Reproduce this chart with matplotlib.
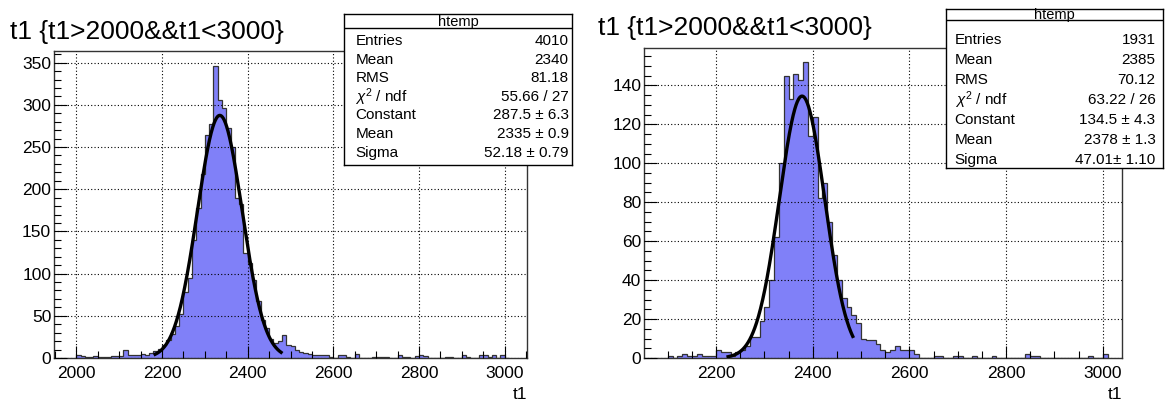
#!/usr/bin/env python3
"""
Two ROOT-style histograms of t1 with gaussian fits and stat boxes.
Output: out.png (1165x403)
"""

import matplotlib
matplotlib.use("Agg")
import matplotlib.pyplot as plt
from matplotlib.ticker import MultipleLocator
import numpy as np

plt.rcParams["font.family"] = ["Liberation Sans", "DejaVu Sans"]
plt.rcParams["mathtext.fontset"] = "custom"
plt.rcParams["mathtext.rm"] = "Liberation Sans"
plt.rcParams["mathtext.it"] = "Liberation Sans:italic"

BIN_WIDTH = 10
TITLE = "t1 {t1>2000&&t1<3000}"

# left histogram: bins start at 2000, width 10
LEFT_START = 2000
LEFT_COUNTS = [
    3, 2, 1, 1, 2, 1, 1, 1, 2, 2,
    2, 9, 3, 3, 4, 5, 4, 6, 8, 11,
    15, 21, 28, 38, 52, 78, 95, 140, 178, 218,
    264, 277, 346, 306, 296, 272, 250, 190, 182, 125,
    112, 92, 68, 45, 35, 22, 18, 20, 27, 15,
    14, 9, 7, 6, 5, 3, 3, 3, 3, 1,
    0, 4, 3, 1, 0, 5, 0, 0, 0, 1,
    1, 1, 1, 0, 0, 4, 1, 1, 0, 2,
    4, 2, 0, 0, 0, 0, 1, 1, 0, 0,
    3, 1, 0, 0, 4, 4, 1, 3, 0, 4, 0,
]
LEFT_FIT = (287.5, 2335, 52.18)      # constant, mean, sigma
LEFT_FIT_RANGE = (2184, 2478)
LEFT_STATS = [("Entries", "4010"), ("Mean", "2340"), ("RMS", "81.18"),
              (r"$\chi^{2}$ / ndf", "55.66 / 27"), ("Constant", "287.5 ± 6.3"),
              ("Mean", "2335 ± 0.9"), ("Sigma", "52.18 ± 0.79")]

# right histogram: bins start at 2100, width 10
RIGHT_START = 2100
RIGHT_COUNTS = [
    1, 0, 1, 2, 1, 1, 2, 1, 1, 1,
    4, 3, 3, 1, 3, 4, 6, 11, 11, 19,
    26, 40, 62, 100, 145, 133, 146, 143, 152, 114,
    124, 82, 90, 70, 53, 40, 31, 26, 22, 18,
    10, 9, 9, 7, 4, 3, 4, 6, 4, 4,
    4, 2, 0, 0, 0, 1, 1, 0, 0, 1,
    1, 0, 0, 1, 0, 0, 0, 1, 0, 0,
    0, 0, 0, 0, 2, 1, 1, 0, 0, 0,
    0, 0, 0, 0, 0, 0, 0, 1, 0, 0, 2,
]
RIGHT_FIT = (134.5, 2378, 47.01)
RIGHT_FIT_RANGE = (2225, 2483)
RIGHT_STATS = [("Entries", "1931"), ("Mean", "2385"), ("RMS", "70.12"),
               (r"$\chi^{2}$ / ndf", "63.22 / 26"), ("Constant", "134.5 ± 4.3"),
               ("Mean", "2378 ± 1.3"), ("Sigma", "47.01± 1.10")]

FILL = "#8080f8"
W, H = 1165, 403


def fr(x0, y0, x1, y1):
    # pixel box -> figure fraction rect
    return [x0 / W, 1 - y1 / H, (x1 - x0) / W, (y1 - y0) / H]


def draw_hist(fig, rect, start, counts, fit, fit_range, xlim, ylim, ymaj, ymin):
    ax = fig.add_axes(rect)
    edges = start + BIN_WIDTH * np.arange(len(counts) + 1)
    ax.stairs(counts, edges, fill=True, color=FILL, zorder=1)
    ax.stairs(counts, edges, color="#333333", lw=0.9, zorder=2)

    a, mu, sig = fit
    xs = np.linspace(*fit_range, 300)
    ax.plot(xs, a * np.exp(-0.5 * ((xs - mu) / sig) ** 2), color="black", lw=2.4, zorder=4)

    ax.set_xlim(*xlim)
    ax.set_ylim(*ylim)
    ax.xaxis.set_major_locator(MultipleLocator(200))
    ax.xaxis.set_minor_locator(MultipleLocator(50))
    ax.yaxis.set_major_locator(MultipleLocator(ymaj))
    ax.yaxis.set_minor_locator(MultipleLocator(ymin))
    ax.tick_params(which="both", direction="in", labelsize=12.5, color="black")
    ax.tick_params(which="major", length=9, width=0.8)
    ax.tick_params(which="minor", length=5, width=0.8)
    ax.tick_params(axis="y", pad=2)
    ax.tick_params(axis="x", pad=6)
    ax.grid(True, which="major", color="black", lw=0.8, ls=(0, (1, 2)), zorder=3)
    ax.set_axisbelow(False)
    for s in ax.spines.values():
        s.set_color("#333333")
        s.set_linewidth(1.0)
    ax.set_xlabel("t1", loc="right", fontsize=12.5, labelpad=4)
    return ax


def draw_stats(fig, rect, rows, head_y, head_line, row_y, box_h, lab_x, val_x):
    ax = fig.add_axes(rect)
    ax.set_xticks([])
    ax.set_yticks([])
    ax.set_xlim(0, 1)
    ax.set_ylim(box_h, 0)
    ax.set_facecolor("white")
    for s in ax.spines.values():
        s.set_color("black")
        s.set_linewidth(1.0)
    ax.text(0.5, head_y, "htemp", ha="center", va="center", fontsize=10.5)
    ax.axhline(head_line, color="black", lw=1.0)
    for i, (lab, val) in enumerate(rows):
        y = row_y[0] + i * row_y[1]
        ax.text(lab_x, y, lab, ha="left", va="center", fontsize=11)
        ax.text(val_x, y, val, ha="right", va="center", fontsize=11)


fig = plt.figure(figsize=(11.65, 4.03), dpi=100)

draw_hist(fig, fr(54, 51, 527, 358), LEFT_START, LEFT_COUNTS, LEFT_FIT, LEFT_FIT_RANGE,
          (1948, 3052), (0, 363.8), 50, 10)
draw_hist(fig, fr(644, 48, 1122, 358), RIGHT_START, RIGHT_COUNTS, RIGHT_FIT, RIGHT_FIT_RANGE,
          (2051, 3040), (0, 159.2), 20, 5)

fig.text(10 / W, 1 - 32 / H, TITLE, ha="left", va="center", fontsize=19)
fig.text(598 / W, 1 - 28 / H, TITLE, ha="left", va="center", fontsize=19)

# stat boxes (pixel coords relative to box top)
draw_stats(fig, fr(344, 14, 572, 165), LEFT_STATS, 8, 14, (27, 18.6), 151, 0.05, 0.985)
draw_stats(fig, fr(946, 9, 1163, 168), RIGHT_STATS, 6, 11, (31, 20.0), 159, 0.04, 0.965)

fig.savefig("out.png", dpi=100)
plt.close(fig)
